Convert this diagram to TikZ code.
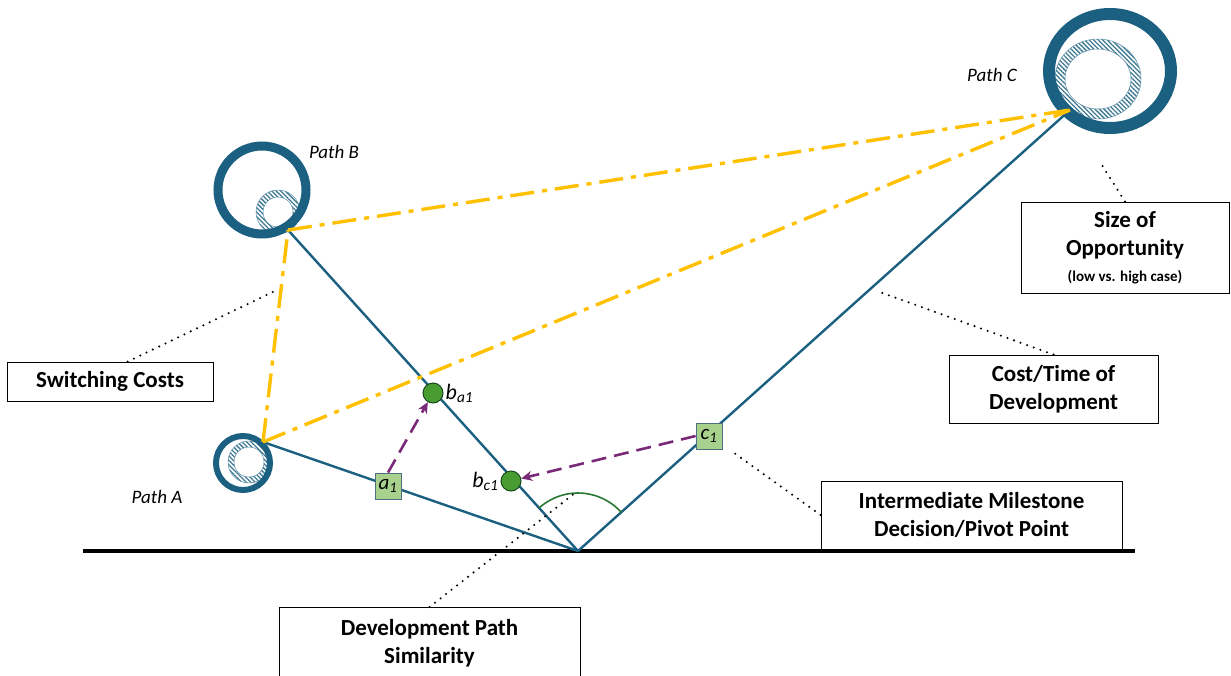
\documentclass[tikz,border=0pt]{standalone}
\usepackage{fontspec}
\setmainfont{Carlito}
\usetikzlibrary{patterns.meta,arrows.meta,calc}
\definecolor{pathblue}{RGB}{27,96,128}
\definecolor{switchgold}{RGB}{255,192,0}
\definecolor{pivotpurple}{RGB}{122,40,120}
\definecolor{milegreen}{RGB}{169,209,142}
\definecolor{dotgreen}{RGB}{72,156,50}
\definecolor{arcgreen}{RGB}{40,120,50}
\begin{document}
\begin{tikzpicture}[x=1pt,y=-1pt,
  devline/.style={draw=pathblue,line width=2.4pt},
  switchline/.style={draw=switchgold,line width=3.4pt,dash pattern=on 24pt off 8pt on 5pt off 8pt},
  pivotarrow/.style={draw=pivotpurple,line width=2.6pt,dash pattern=on 15pt off 8pt,-{Stealth[length=11pt,width=10pt]}},
  leader/.style={draw=black,line width=2.3pt,line cap=round,dash pattern=on 0pt off 7pt},
  note/.style={draw=black,line width=0.8pt,fill=white,align=center,inner sep=0pt,
    font=\bfseries\fontsize{23}{28.5}\selectfont},
  milestone/.style={draw=pathblue!50!gray,line width=0.8pt,fill=milegreen,minimum size=26pt,inner sep=0pt,
    font=\itshape\fontsize{21}{21}\selectfont},
  switchdot/.style={circle,draw=arcgreen!60!black,line width=1pt,fill=dotgreen,minimum width=18pt,minimum height=20pt,inner sep=0pt},
  pathlabel/.style={font=\itshape\fontsize{19}{22}\selectfont},
  dotlabel/.style={font=\itshape\fontsize{22}{22}\selectfont,inner sep=2pt},
  hatchring/.style={pattern={Lines[angle=-45,distance=3.2pt,line width=1.3pt]},pattern color=pathblue!85,even odd rule}
]
\useasboundingbox (0,0) rectangle (1231,675);
% end points of the three paths
\coordinate (O) at (578,551);
\coordinate (A) at (263,442);
\coordinate (B) at (288,230);
\coordinate (C) at (1070,110);
% ground line
\coordinate (g0) at (83,551);
\coordinate (g1) at (1135,551);
\path[draw=black,line width=4pt] (g0) -- (g1);
% development paths
\path[devline] (O) -- (A);
\path[devline] (O) -- (B);
\path[devline] (O) -- (C);
% similarity arc
\path[draw=arcgreen,line width=1.6pt] ([shift={(-41.6:58)}]O) arc[start angle=-41.6,end angle=-132.5,radius=58];
% opportunity rings
\coordinate (ringA) at (243,463);
\coordinate (hatchA) at (249,462);
\path[hatchring] (hatchA) circle (21) (hatchA) circle (15);
\path[draw=pathblue!70,line width=0.5pt] (hatchA) circle (21) (hatchA) circle (15);
\path[draw=pathblue,line width=6pt] (ringA) circle (27);
\coordinate (ringB) at (262,190);
\coordinate (hatchB) at (278,212);
\path[hatchring] (hatchB) circle (22) (hatchB) circle (15);
\path[draw=pathblue!70,line width=0.5pt] (hatchB) circle (22) (hatchB) circle (15);
\path[draw=pathblue,line width=9pt] (ringB) circle (44);
\coordinate (ringC) at (1110,71);
\coordinate (hatchC) at (1098,79);
\path[hatchring] (hatchC) ellipse [x radius=43,y radius=40] (hatchC) ellipse [x radius=33,y radius=30];
\path[draw=pathblue!70,line width=0.5pt] (hatchC) ellipse [x radius=43,y radius=40] (hatchC) ellipse [x radius=33,y radius=30];
\path[draw=pathblue,line width=12pt] (ringC) ellipse [x radius=61,y radius=57];
% switching cost lines
\path[switchline] (A) -- (B);
\path[switchline] (B) -- (C);
\path[switchline] (A) -- (C);
% milestones and switch points
\node[milestone] (a1) at (388,486) {a\textsubscript{1}};
\node[milestone] (c1) at (709,436) {c\textsubscript{1}};
\node[switchdot,label={[dotlabel,anchor=west]east:b\textsubscript{a1}}] (ba1) at (433,393) {};
\node[switchdot,label={[dotlabel,anchor=east]west:b\textsubscript{c1}}] (bc1) at (511,481) {};
\path[pivotarrow] (a1.north) -- (ba1);
\path[pivotarrow] (c1.west) -- (bc1);
% path names
\node[pathlabel] (nameA) at (157,497) {Path A};
\node[pathlabel] (nameB) at (334,152) {Path B};
\node[pathlabel] (nameC) at (992,75) {Path C};
% callout boxes
\node[note,minimum width=206pt,minimum height=39pt] (switching) at (110,381.5) {Switching Costs};
\node[note,minimum width=208pt,minimum height=91pt] (size) at (1125,247.5)
  {Size of\\Opportunity\\[-3pt]{\fontsize{15}{18}\selectfont(low vs. high case)}};
\node[note,minimum width=209pt,minimum height=68pt] (cost) at (1053.5,389) {Cost/Time of\\Development};
\node[note,minimum width=301pt,minimum height=68pt] (pivot) at (971.5,515) {Intermediate Milestone\\Decision/Pivot Point};
\node[note,minimum width=301pt,minimum height=72pt,anchor=north] (similar) at (429.5,607) {Development Path\\Similarity};
% dotted leaders
\coordinate (swEnd) at (277,290);
\coordinate (sizeEnd) at (1100,162);
\coordinate (costEnd) at (877,291);
\coordinate (pivotEnd) at (730,450);
\coordinate (simEnd) at (575,493);
\path[leader] ($(switching.north west)+(121,0)$) -- (swEnd);
\path[leader] (size.north) -- (sizeEnd);
\path[leader] (cost.north) -- (costEnd);
\path[leader] (pivot.west) -- (pivotEnd);
\path[leader] (similar.north) -- (simEnd);
\end{tikzpicture}
\end{document}
